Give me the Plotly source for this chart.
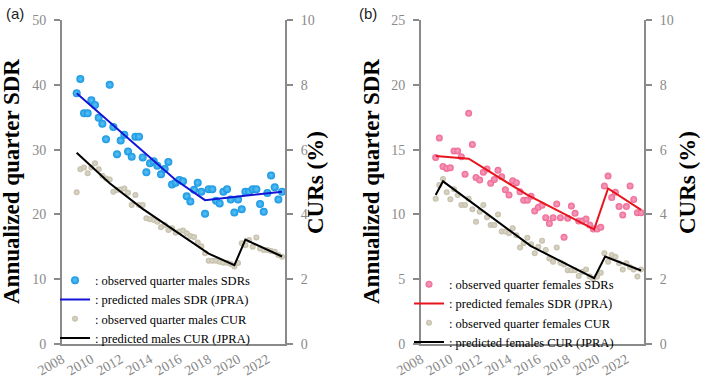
import plotly.graph_objects as go

# quarterly time points (decimal years)
quarters = [2009.0, 2009.25, 2009.5, 2009.75, 2010.0, 2010.25, 2010.5, 2010.75,
            2011.0, 2011.25, 2011.5, 2011.75, 2012.0, 2012.25, 2012.5, 2012.75,
            2013.0, 2013.25, 2013.5, 2013.75, 2014.0, 2014.25, 2014.5, 2014.75,
            2015.0, 2015.25, 2015.5, 2015.75, 2016.0, 2016.25, 2016.5, 2016.75,
            2017.0, 2017.25, 2017.5, 2017.75, 2018.0, 2018.25, 2018.5, 2018.75,
            2019.0, 2019.25, 2019.5, 2019.75, 2020.0, 2020.25, 2020.5, 2020.75,
            2021.0, 2021.25, 2021.5, 2021.75, 2022.0, 2022.25, 2022.5, 2022.75,
            2023.0]

male_sdr = [38.7, 40.9, 35.6, 35.6, 37.6, 36.9, 34.9, 34.0,
            31.6, 40.0, 33.5, 29.3, 31.4, 32.3, 29.7, 28.9,
            32.0, 32.0, 28.8, 26.5, 27.9, 28.2, 27.5, 26.2,
            27.0, 28.1, 24.6, 24.9, 25.3, 25.1, 22.8, 22.0,
            23.8, 24.9, 23.5, 20.1, 23.9, 23.9, 22.1, 21.7,
            23.5, 23.9, 22.3, 20.3, 22.3, 20.8, 23.5, 23.5,
            23.9, 23.9, 21.6, 20.4, 23.3, 26.0, 24.2, 22.3,
            23.5]

male_cur = [4.68, 5.39, 5.45, 5.27, 5.45, 5.58, 5.39, 5.19,
            5.11, 5.08, 4.70, 4.75, 4.77, 4.80, 4.67, 4.29,
            4.60, 4.29, 4.29, 3.88, 3.85, 3.83, 3.77, 3.60,
            3.67, 3.52, 3.57, 3.43, 3.47, 3.50, 3.42, 3.33,
            3.30, 3.13, 3.02, 2.80, 2.57, 2.57, 2.57, 2.54,
            2.51, 2.51, 2.47, 2.39, 2.50, 3.11, 3.05, 3.21,
            3.00, 3.29, 2.95, 2.90, 2.90, 2.87, 2.85, 2.75,
            2.69]

female_sdr = [14.4, 15.9, 13.7, 13.55, 13.6, 14.9, 14.9, 14.45,
              13.1, 17.8, 15.4, 12.85, 12.65, 13.25, 13.5, 12.4,
              12.7, 13.4, 12.9, 11.9, 11.5, 12.6, 12.45, 11.75,
              11.1, 11.1, 11.4, 10.26, 10.55, 10.7, 9.75, 9.3,
              9.75, 10.8, 9.75, 8.23, 9.7, 10.65, 10.08, 9.5,
              9.49, 9.64, 9.18, 8.87, 8.87, 9.0, 12.2, 12.96,
              11.3, 11.7, 10.6, 9.95, 10.6, 12.2, 11.15, 10.13,
              10.13]

female_cur = [4.48, 4.91, 5.09, 4.68, 4.47, 4.78, 4.60, 4.29,
              4.29, 4.48, 4.16, 3.77, 4.08, 4.29, 3.91, 3.67,
              3.67, 4.00, 3.47, 3.47, 3.42, 3.57, 3.36, 2.98,
              3.11, 3.28, 3.08, 2.80, 3.00, 3.19, 2.90, 2.64,
              2.54, 2.98, 2.51, 2.45, 2.28, 2.28, 2.28, 2.10,
              2.23, 2.30, 2.08, 2.00, 2.08, 2.20, 2.80, 2.54,
              2.75, 2.69, 2.49, 2.30, 2.49, 2.37, 2.30, 2.08,
              2.30]

# JPRA predicted (joinpoint) lines
male_sdr_pred_x = [2009.0, 2015.75, 2017.75, 2023.0]
male_sdr_pred_y = [38.7, 25.3, 22.2, 23.5]
male_cur_pred_x = [2009.0, 2011.25, 2013.5, 2015.75, 2018.0, 2019.75, 2020.5, 2023.0]
male_cur_pred_y = [5.90, 4.96, 4.17, 3.48, 2.79, 2.43, 3.22, 2.70]
female_sdr_pred_x = [2009.0, 2011.25, 2015.25, 2019.8, 2020.75, 2023.0]
female_sdr_pred_y = [14.5, 14.3, 11.5, 8.85, 12.0, 10.35]
female_cur_pred_x = [2009.0, 2009.5, 2015.5, 2019.8, 2020.55, 2023.0]
female_cur_pred_y = [4.6, 5.02, 3.02, 2.03, 2.7, 2.27]

x_ticks = [2008, 2010, 2012, 2014, 2016, 2018, 2020, 2022]

SERIF = "Liberation Serif, Times New Roman, DejaVu Serif, serif"
GREY = "#8a8a8a"
W, H = 702, 384

def px_x(p):
    return p / W

def px_y(p):
    return (H - p) / H

fig = go.Figure()

# ---- panel (a): males
fig.add_trace(go.Scatter(x=quarters, y=male_sdr, mode="markers", xaxis="x", yaxis="y",
                         marker=dict(size=8, color="#1896e2",
                                     gradient=dict(type="radial", color="#5cc4f6")),
                         name=": observed quarter males SDRs", legend="legend", legendrank=1))
fig.add_trace(go.Scatter(x=male_sdr_pred_x, y=male_sdr_pred_y, mode="lines", xaxis="x", yaxis="y",
                         line=dict(color="#1414d6", width=2),
                         name=": predicted males SDR (JPRA)", legend="legend", legendrank=2))
fig.add_trace(go.Scatter(x=quarters, y=male_cur, mode="markers", xaxis="x", yaxis="y2",
                         marker=dict(size=6, color="#c4bea9",
                                     gradient=dict(type="radial", color="#dcd8ca")),
                         name=": observed quarter males CUR", legend="legend", legendrank=3))
fig.add_trace(go.Scatter(x=male_cur_pred_x, y=male_cur_pred_y, mode="lines", xaxis="x", yaxis="y2",
                         line=dict(color="#000000", width=2),
                         name=": predicted males CUR (JPRA)", legend="legend", legendrank=4))

# ---- panel (b): females
fig.add_trace(go.Scatter(x=quarters, y=female_sdr, mode="markers", xaxis="x2", yaxis="y3",
                         marker=dict(size=7, color="#ee6a96",
                                     gradient=dict(type="radial", color="#f7a3c0")),
                         name=": observed quarter females SDRs", legend="legend2", legendrank=1))
fig.add_trace(go.Scatter(x=female_sdr_pred_x, y=female_sdr_pred_y, mode="lines", xaxis="x2", yaxis="y3",
                         line=dict(color="#e8141c", width=2),
                         name=": predicted females SDR (JPRA)", legend="legend2", legendrank=2))
fig.add_trace(go.Scatter(x=quarters, y=female_cur, mode="markers", xaxis="x2", yaxis="y4",
                         marker=dict(size=6, color="#c4bea9",
                                     gradient=dict(type="radial", color="#dcd8ca")),
                         name=": observed quarter females CUR", legend="legend2", legendrank=3))
fig.add_trace(go.Scatter(x=female_cur_pred_x, y=female_cur_pred_y, mode="lines", xaxis="x2", yaxis="y4",
                         line=dict(color="#000000", width=2),
                         name=": predicted females CUR (JPRA)", legend="legend2", legendrank=4))

ydom = [px_y(344), px_y(20)]
tickfont = dict(family=SERIF, size=14, color=GREY)

def xaxis_cfg(dom, anchor):
    return dict(domain=dom, anchor=anchor, range=[2008, 2023.2], tickvals=x_ticks,
                ticktext=[str(t) for t in x_ticks], tickangle=-30, ticks="",
                showline=True, linecolor=GREY, linewidth=2, showgrid=False, zeroline=False,
                tickfont=tickfont, fixedrange=True, automargin=False)

def yaxis_cfg(rng, dtick, anchor, side="left", overlaying=None):
    d = dict(range=rng, dtick=dtick, anchor=anchor, side=side, ticks="outside", ticklen=6,
             tickwidth=2, tickcolor=GREY, showline=True, linecolor=GREY, linewidth=2,
             showgrid=False, zeroline=False, tickfont=tickfont, ticklabelstandoff=5,
             automargin=False)
    if overlaying:
        d["overlaying"] = overlaying
    else:
        d["domain"] = ydom
    return d

legend_font = dict(family=SERIF, size=12.5, color="black")

fig.update_layout(
    width=W, height=H,
    margin=dict(l=0, r=0, t=0, b=0),
    paper_bgcolor="white", plot_bgcolor="white",
    xaxis=xaxis_cfg([px_x(62), px_x(285)], "y"),
    yaxis=yaxis_cfg([0, 50], 10, "x"),
    yaxis2=yaxis_cfg([0, 10], 2, "x", side="right", overlaying="y"),
    xaxis2=xaxis_cfg([px_x(421), px_x(644)], "y3"),
    yaxis3=yaxis_cfg([0, 25], 5, "x2"),
    yaxis4=yaxis_cfg([0, 10], 2, "x2", side="right", overlaying="y3"),
    legend=dict(x=px_x(55), xanchor="left", y=px_y(309), yanchor="middle",
                bgcolor="rgba(0,0,0,0)", font=legend_font,
                tracegroupgap=0, itemwidth=30),
    legend2=dict(x=px_x(409), xanchor="left", y=px_y(313), yanchor="middle",
                 bgcolor="rgba(0,0,0,0)", font=legend_font,
                 tracegroupgap=0, itemwidth=30),
    showlegend=True,
)

title_font = dict(family=SERIF, size=23, color="black")
annots = [
    dict(text="(a)", x=px_x(4), y=px_y(3), xanchor="left", yanchor="top",
         font=dict(family="Liberation Sans, Arial, sans-serif", size=15, color="#222")),
    dict(text="(b)", x=px_x(357), y=px_y(3), xanchor="left", yanchor="top",
         font=dict(family="Liberation Sans, Arial, sans-serif", size=15, color="#222")),
    dict(text="<b>Annualized quarter SDR</b>", x=px_x(11), y=px_y(182), textangle=-90,
         xanchor="center", yanchor="middle", font=title_font),
    dict(text="<b>CURs (%)</b>", x=px_x(315), y=px_y(183), textangle=-90,
         xanchor="center", yanchor="middle", font=title_font),
    dict(text="<b>Annualized quarter SDR</b>", x=px_x(371), y=px_y(182), textangle=-90,
         xanchor="center", yanchor="middle", font=title_font),
    dict(text="<b>CURs (%)</b>", x=px_x(687), y=px_y(183), textangle=-90,
         xanchor="center", yanchor="middle", font=title_font),
]
for a in annots:
    a.update(xref="paper", yref="paper", showarrow=False)
fig.update_layout(annotations=annots)

# remove the default page margin so the 702x384 figure fills the window exactly
fig.write_html("out.html",
               config={"displayModeBar": False},
               post_script="document.body.style.margin='0';document.body.style.overflow='hidden';")
